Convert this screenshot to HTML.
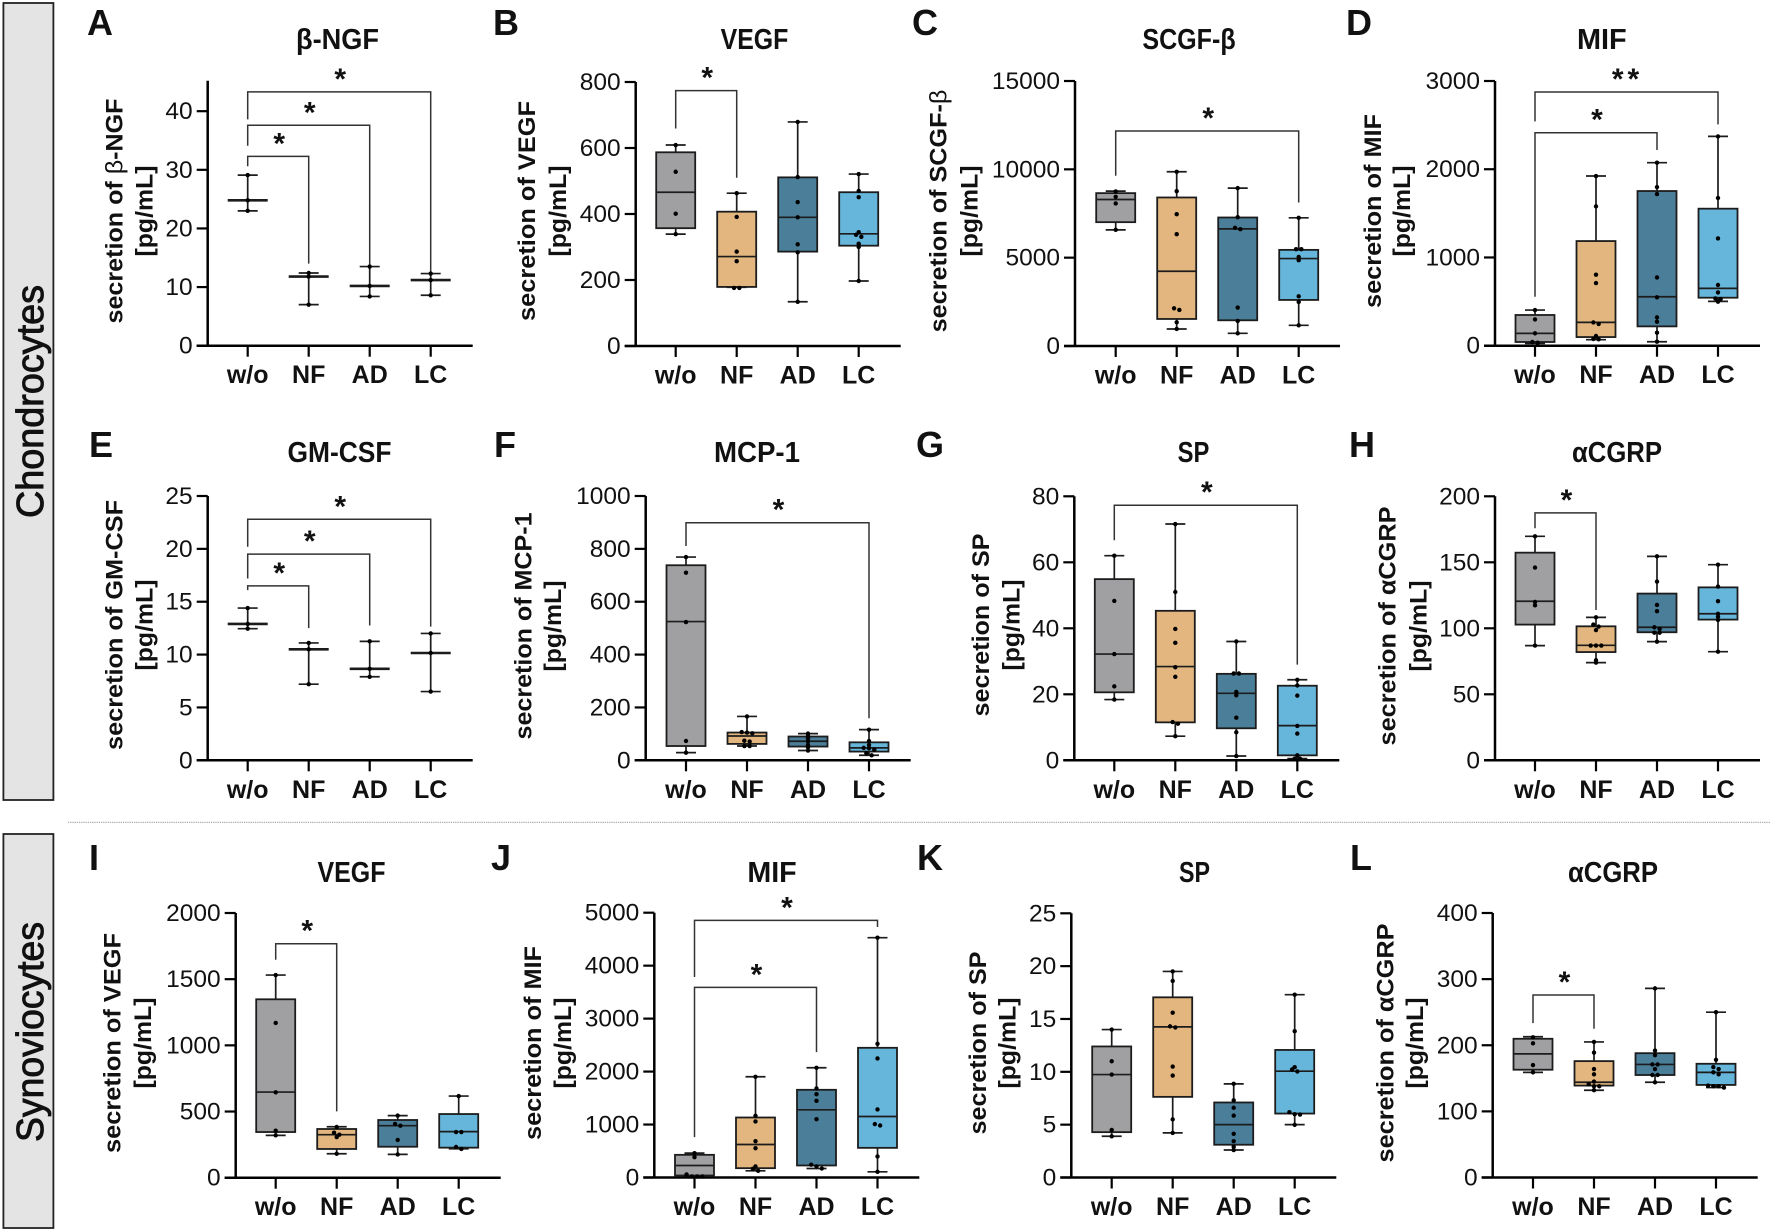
<!DOCTYPE html>
<html lang="en">
<head>
<meta charset="utf-8">
<title>Secretion of factors in chondrocytes and synoviocytes</title>
<style>
html,body{margin:0;padding:0;background:#fff;width:1772px;height:1232px;overflow:hidden}
svg{display:block;position:absolute;left:0;top:0}
text{font-family:"Liberation Sans",Arial,sans-serif;fill:#111}
</style>
</head>
<body>
<svg id="figure" width="1772" height="1232" viewBox="0 0 1772 1232" xmlns="http://www.w3.org/2000/svg">
  <rect x="0" y="0" width="1772" height="1232" fill="#fff"/>
  <rect x="3.4" y="3" width="50" height="797" fill="#e4e4e4" stroke="#222" stroke-width="1.8"/>
  <text transform="translate(43,401.5) rotate(-90)" text-anchor="middle" font-size="38" textLength="233" lengthAdjust="spacingAndGlyphs" stroke="#111" stroke-width="0.9">Chondrocytes</text>
  <rect x="3.4" y="834" width="50" height="394" fill="#e4e4e4" stroke="#222" stroke-width="1.8"/>
  <text transform="translate(43,1032) rotate(-90)" text-anchor="middle" font-size="38" textLength="220" lengthAdjust="spacingAndGlyphs" stroke="#111" stroke-width="0.9">Synoviocytes</text>
  <line x1="68" y1="822.4" x2="1770" y2="822.4" stroke="#a8a8a8" stroke-width="1.2" stroke-dasharray="1.2 1"/>
</svg>
<script>
const categories = ['w/o', 'NF', 'AD', 'LC'];
const groupColors = ['#a0a0a2', '#e2b67e', '#4a7e99', '#66b5da'];

/* A: beta-NGF */
const aTicks = [0, 10, 20, 30, 40];
const aMax = [29.1, 12.4, 13.5, 12.3];
const aMedian = [24.8, 11.8, 10.2, 11.2];
const aMin = [23.0, 7.0, 8.4, 8.6];
const aDots = [[29.1, 24.8, 23.0], [12.4, 11.8, 7.0], [13.5, 10.2, 8.4], [12.3, 11.2, 8.6]];
const aBrackets = [[0, 3, 43.3, 38.6, 12.6, '*'], [0, 2, 37.6, 34.1, 13.75, '*'], [0, 1, 32.3, 30.6, 14.0, '*']];

/* B: VEGF */
const bTicks = [0, 200, 400, 600, 800];
const bMax = [609, 463, 679, 521];
const bQ3 = [587, 407, 511, 466];
const bMedian = [466, 271, 390, 340];
const bQ1 = [357, 179, 286, 304];
const bMin = [339, 178, 134, 197];
const bDots = [[609, 528, 401, 339], [463, 391, 286, 257, 176, 176], [679, 512, 436, 390, 308, 284, 134], [521, 470, 451, 345, 337, 331, 310, 300, 197]];
const bBrackets = [[0, 1, 774, 659, 510, '*']];

/* C: SCGF-beta */
const cTicks = [0, 5000, 10000, 15000];
const cMax = [8766, 9862, 8936, 7255];
const cQ3 = [8653, 8407, 7274, 5441];
const cMedian = [8294, 4232, 6631, 4950];
const cQ1 = [7009, 1530, 1455, 2607];
const cMin = [6575, 964, 718, 1171];
const cDots = [[8747, 8445, 8067, 6575], [9862, 8766, 7463, 6329, 2135, 2040, 1341, 964], [8936, 7293, 6688, 6612, 2173, 1417, 718], [7255, 5479, 5479, 5044, 4855, 2815, 2494, 1171]];
const cBrackets = [[0, 3, 12167, 9635, 8124, '*']];

/* D: MIF */
const dTicks = [0, 1000, 2000, 3000];
const dMax = [404, 1923, 2074, 2372];
const dQ3 = [348, 1186, 1753, 1553];
const dMedian = [140, 264, 555, 650];
const dQ1 = [42, 98, 219, 544];
const dMin = [26, 68, 45, 502];
const dDots = [[404, 298, 140, 42, 34], [1923, 1579, 805, 710, 264, 246, 110, 76, 72], [2074, 1798, 1719, 774, 548, 321, 272, 147, 45], [2372, 1674, 1216, 688, 604, 536, 529, 499]];
const dBrackets = [[0, 3, 2875, 2543, 2509, '**'], [0, 2, 2414, 555, 2218, '*']];

/* E: GM-CSF */
const eTicks = [0, 5, 10, 15, 20, 25];
const eMax = [14.4, 11.1, 11.25, 12.0];
const eMedian = [12.9, 10.5, 8.65, 10.15];
const eMin = [12.45, 7.2, 7.9, 6.5];
const eDots = [[14.4, 12.9, 12.45], [11.1, 10.5, 7.2], [11.25, 8.65, 7.9], [12.0, 10.15, 6.5]];
const eBrackets = [[0, 3, 22.8, 20.2, 12.65, '*'], [0, 2, 19.5, 17.2, 12.75, '*'], [0, 1, 16.5, 16.1, 12.5, '*']];

/* F: MCP-1 */
const fTicks = [0, 200, 400, 600, 800, 1000];
const fMax = [769, 166, 101, 116];
const fQ3 = [738, 105, 90, 68];
const fMedian = [525, 92, 72, 47];
const fQ1 = [54, 62, 52, 33];
const fMin = [29, 54, 37, 19];
const fDots = [[769, 710, 523, 73, 29], [166, 107, 105, 102, 74, 71, 54, 54], [101, 92, 83, 72, 58, 49, 37], [116, 73, 58, 47, 46, 40, 27, 19]];
const fBrackets = [[0, 3, 899, 811, 159, '*']];

/* G: SP */
const gTicks = [0, 20, 40, 60, 80];
const gMax = [62, 71.6, 36, 24.4];
const gQ3 = [54.9, 45.3, 26.2, 22.6];
const gMedian = [32.2, 28.4, 20.3, 10.5];
const gQ1 = [20.6, 11.5, 9.7, 1.5];
const gMin = [18.4, 7.3, 1.3, 0.5];
const gDots = [[62, 48.3, 32.2, 22.4, 18.4], [71.6, 51, 39.8, 35.6, 28.2, 25.3, 11.6, 11.1, 7.3], [36, 26.3, 26.3, 20.7, 19.7, 12.9, 8.5, 1.3], [24.4, 22.7, 19.6, 10.4, 8.1, 1.5, 0.5, 0.5]];
const gBrackets = [[0, 3, 77.3, 66.7, 29, '*']];

/* H: alpha-CGRP */
const hTicks = [0, 50, 100, 150, 200];
const hMax = [169.7, 108.3, 154.5, 148.2];
const hQ3 = [157.3, 101.5, 126.3, 131];
const hMedian = [120.5, 87.1, 100.8, 111];
const hQ1 = [102.8, 82, 97, 106.6];
const hMin = [86.9, 74, 89.9, 82.3];
const hDots = [[169.7, 146, 120, 117.4, 86.9], [108.3, 102.8, 101.3, 98.7, 86.9, 86.9, 86.9, 75.8, 74], [154.5, 135.4, 117.7, 113, 100.8, 99.6, 96.7, 96.7, 89.9], [148.2, 131.6, 120.5, 111, 108.8, 106.3, 82.3]];
const hBrackets = [[0, 1, 187.4, 175.8, 113.9, '*']];

/* I: VEGF synoviocytes */
const iTicks = [0, 500, 1000, 1500, 2000];
const iMax = [1531, 385, 469, 617];
const iQ3 = [1348, 368, 436, 481];
const iMedian = [647, 325, 393, 348];
const iQ1 = [345, 217, 234, 227];
const iMin = [320, 181, 176, 219];
const iDots = [[1531, 1169, 645, 355, 320], [383, 340, 325, 307, 181], [469, 406, 393, 285, 176], [617, 345, 345, 232, 217]];
const iBrackets = [[0, 1, 1768, 1647, 501, '*']];

/* J: MIF synoviocytes */
const jTicks = [0, 1000, 2000, 3000, 4000, 5000];
const jMax = [460, 1902, 2072, 4528];
const jQ3 = [428, 1133, 1656, 2449];
const jMedian = [227, 623, 1278, 1152];
const jQ1 = [38, 176, 227, 560];
const jMin = [13, 126, 170, 107];
const jDots = [[460, 384, 57, 19, 19, 19], [1902, 1165, 1058, 686, 554, 208, 164, 126], [2072, 1681, 1574, 1448, 1102, 241, 208, 170], [4528, 2525, 2248, 1285, 1008, 982, 397, 107]];
const jBrackets = [[0, 3, 4855, 3785, 4729, '*'], [0, 2, 3589, 762, 2368, '*']];

/* K: SP synoviocytes */
const kTicks = [0, 5, 10, 15, 20, 25];
const kMax = [14.0, 19.5, 8.86, 17.3];
const kQ3 = [12.4, 17.05, 7.1, 12.07];
const kMedian = [9.74, 14.25, 5.0, 10.06];
const kQ1 = [4.29, 7.63, 3.1, 6.05];
const kMin = [3.9, 4.22, 2.6, 5.0];
const kDots = [[14.0, 11.0, 9.74, 4.5, 3.9], [19.5, 18.6, 15.6, 14.3, 14.2, 10.5, 9.65, 5.5, 4.22], [8.86, 7.3, 6.6, 5.86, 4.13, 3.44, 2.9, 2.6], [17.3, 13.84, 10.44, 10.22, 10.03, 6.18, 5.99, 5.96, 4.98]];
const kBrackets = [];

/* L: alpha-CGRP synoviocytes */
const lTicks = [0, 100, 200, 300, 400];
const lMax = [212.9, 205, 286, 250];
const lQ3 = [209.8, 176, 188, 172];
const lMedian = [187, 144, 171, 159];
const lQ1 = [163, 139, 155, 140];
const lMin = [159, 132, 144, 136];
const lDots = [[212, 203, 170, 159], [205, 189, 164, 156, 145, 141, 138, 138, 132], [286, 192, 185, 171, 171, 164, 155, 155, 144], [250, 178, 167, 164, 159, 156, 139, 138, 138, 136]];
const lBrackets = [[0, 1, 276, 233.5, 225, '*']];

const NS = 'http://www.w3.org/2000/svg';
const figure = document.getElementById('figure');

function make(tag, parent, attrs) {
  const node = document.createElementNS(NS, tag);
  for (const k in attrs) node.setAttribute(k, attrs[k]);
  parent.appendChild(node);
  return node;
}

const panels = [
  {id:'a', letter:'A', lx:87, ly:35, title:'β-NGF', tx:337.5, tw:83, tb:49, factor:'β-NGF', axisX:207.7, y0:345.7, top:80.7, domainMax:45.2, catStart:247.7, l1x:122.7, l1len:225, l2x:152.7, cy:211, ticks:aTicks, max:aMax, q3:null, med:aMedian, q1:null, min:aMin, dots:aDots, brackets:aBrackets},
  {id:'b', letter:'B', lx:493, ly:35, title:'VEGF', tx:754.5, tw:67.7, tb:49, factor:'VEGF', axisX:635.7, y0:346, top:82, domainMax:800, catStart:675.7, l1x:535, l1len:220, l2x:566, cy:211, ticks:bTicks, max:bMax, q3:bQ3, med:bMedian, q1:bQ1, min:bMin, dots:bDots, brackets:bBrackets},
  {id:'c', letter:'C', lx:912, ly:35, title:'SCGF-β', tx:1189, tw:93.3, tb:49, factor:'SCGF-β', axisX:1075, y0:346, top:81, domainMax:15000, catStart:1115.7, l1x:946.7, l1len:242.7, l2x:977.7, cy:211, ticks:cTicks, max:cMax, q3:cQ3, med:cMedian, q1:cQ1, min:cMin, dots:cDots, brackets:cBrackets},
  {id:'d', letter:'D', lx:1346, ly:35, title:'MIF', tx:1601.8, tw:49.7, tb:49, factor:'MIF', axisX:1495, y0:345.7, top:81, domainMax:3000, catStart:1535, l1x:1381, l1len:194, l2x:1410, cy:211, ticks:dTicks, max:dMax, q3:dQ3, med:dMedian, q1:dQ1, min:dMin, dots:dDots, brackets:dBrackets},
  {id:'e', letter:'E', lx:89, ly:457, title:'GM-CSF', tx:339.5, tw:104, tb:462, factor:'GM-CSF', axisX:207.7, y0:760.3, top:496, domainMax:25, catStart:247.7, l1x:122.7, l1len:250, l2x:152.7, cy:625, ticks:eTicks, max:eMax, q3:null, med:eMedian, q1:null, min:eMin, dots:eDots, brackets:eBrackets},
  {id:'f', letter:'F', lx:494, ly:457, title:'MCP-1', tx:757, tw:86, tb:462, factor:'MCP-1', axisX:645.7, y0:760.3, top:496, domainMax:1000, catStart:686, l1x:531.7, l1len:227, l2x:561, cy:626, ticks:fTicks, max:fMax, q3:fQ3, med:fMedian, q1:fQ1, min:fMin, dots:fDots, brackets:fBrackets},
  {id:'g', letter:'G', lx:916, ly:457, title:'SP', tx:1193.5, tw:31.7, tb:462, factor:'SP', axisX:1074.3, y0:760.3, top:496.3, domainMax:80, catStart:1114.3, l1x:989, l1len:183, l2x:1019.3, cy:625, ticks:gTicks, max:gMax, q3:gQ3, med:gMedian, q1:gQ1, min:gMin, dots:gDots, brackets:gBrackets},
  {id:'h', letter:'H', lx:1349, ly:457, title:'αCGRP', tx:1617, tw:90, tb:462, factor:'αCGRP', axisX:1495, y0:760.3, top:496.3, domainMax:200, catStart:1535, l1x:1395.3, l1len:239, l2x:1426.3, cy:626, ticks:hTicks, max:hMax, q3:hQ3, med:hMedian, q1:hQ1, min:hMin, dots:hDots, brackets:hBrackets},
  {id:'i', letter:'I', lx:89, ly:870, title:'VEGF', tx:351.5, tw:68, tb:882, factor:'VEGF', axisX:235.7, y0:1177.7, top:913, domainMax:2000, catStart:275.7, l1x:120.7, l1len:220, l2x:151, cy:1043, ticks:iTicks, max:iMax, q3:iQ3, med:iMedian, q1:iQ1, min:iMin, dots:iDots, brackets:iBrackets},
  {id:'j', letter:'J', lx:491, ly:870, title:'MIF', tx:772, tw:49.3, tb:882, factor:'MIF', axisX:654.3, y0:1177.5, top:912.7, domainMax:5000, catStart:694.5, l1x:541, l1len:194, l2x:571, cy:1043, ticks:jTicks, max:jMax, q3:jQ3, med:jMedian, q1:jQ1, min:jMin, dots:jDots, brackets:jBrackets},
  {id:'k', letter:'K', lx:917, ly:870, title:'SP', tx:1194.5, tw:31, tb:882, factor:'SP', axisX:1071.3, y0:1177.5, top:913.3, domainMax:25, catStart:1111.7, l1x:986, l1len:183, l2x:1015.3, cy:1043, ticks:kTicks, max:kMax, q3:kQ3, med:kMedian, q1:kQ1, min:kMin, dots:kDots, brackets:kBrackets},
  {id:'l', letter:'L', lx:1350, ly:870, title:'αCGRP', tx:1613, tw:90, tb:882, factor:'αCGRP', axisX:1492.7, y0:1177.5, top:913, domainMax:400, catStart:1533, l1x:1393.7, l1len:239, l2x:1423, cy:1043, ticks:lTicks, max:lMax, q3:lQ3, med:lMedian, q1:lQ1, min:lMin, dots:lDots, brackets:lBrackets}
];

const CAT_STEP = 61;
const BOX_W = 39;
const CAP_W = 20;
const MEAN_W = 40;
const INK = '#1c1c1c';

function drawPanel(p) {
  const yScale = v => p.y0 - (v / p.domainMax) * (p.y0 - p.top);
  const xScale = i => p.catStart + i * CAT_STEP;

  const g = make('g', figure, {});
  
  

  const letter = make('text', g, {x: p.lx, y: p.ly, 'font-size': 36, 'font-weight': 'bold'});
  
  
  letter.textContent = p.letter;

  const title = make('text', g, {x: p.tx, y: p.tb, 'font-size': 29, 'font-weight': 'bold', 'text-anchor': 'middle', textLength: p.tw, lengthAdjust: 'spacingAndGlyphs'});
  
  
  title.textContent = p.title;

  /* y-axis title, two rotated lines; the beta sign is drawn in regular weight */
  const yTitle1 = make('text', g, {transform: 'translate(' + p.l1x + ',' + p.cy + ') rotate(-90)', 'font-size': 24.5, 'font-weight': 'bold', 'text-anchor': 'middle', textLength: p.l1len, lengthAdjust: 'spacingAndGlyphs'});
  
  
  const factorParts = p.factor.split('β');
  yTitle1.appendChild(document.createTextNode('secretion of ' + factorParts[0]));
  if (factorParts.length > 1) {
    const beta = make('tspan', yTitle1, {'font-weight': 'normal'});
    beta.textContent = 'β';
    yTitle1.appendChild(document.createTextNode(factorParts[1]));
  }
  const yTitle2 = make('text', g, {transform: 'translate(' + p.l2x + ',' + p.cy + ') rotate(-90)', 'font-size': 24.5, 'font-weight': 'bold', 'text-anchor': 'middle', textLength: 91, lengthAdjust: 'spacingAndGlyphs'});
  
  
  yTitle2.textContent = '[pg/mL]';

  /* significance brackets */
  p.brackets.forEach(b => {
    const x1 = xScale(b[0]);
    const x2 = xScale(b[1]);
    const yTop = yScale(b[2]);
    const path = make('path', g, {d: 'M' + x1 + ' ' + yScale(b[3]) + 'V' + yTop + 'H' + x2 + 'V' + yScale(b[4]), fill: 'none', stroke: '#333', 'stroke-width': 1.5});
    
    
    const star = make('text', g, {x: (x1 + x2) / 2 + 1, y: yTop - 3, 'font-size': 30, 'font-weight': 'bold', 'text-anchor': 'middle', 'letter-spacing': b[5].length > 1 ? 4 : 0});
    
    
    star.textContent = b[5];
  });

  /* groups */
  categories.forEach((cat, i) => {
    const cx = xScale(i);
    const isBox = !!p.q3;
    const whiskerUpper = make('line', g, {x1: cx, x2: cx, y1: yScale(p.max[i]), y2: yScale(isBox ? p.q3[i] : p.min[i]), stroke: INK, 'stroke-width': 1.7});
    
    
    if (isBox) {
      const whiskerLower = make('line', g, {x1: cx, x2: cx, y1: yScale(p.q1[i]), y2: yScale(p.min[i]), stroke: INK, 'stroke-width': 1.7});
      
      
    }
    const capTop = make('line', g, {x1: cx - CAP_W / 2, x2: cx + CAP_W / 2, y1: yScale(p.max[i]), y2: yScale(p.max[i]), stroke: INK, 'stroke-width': 1.7});
    
    
    const capBottom = make('line', g, {x1: cx - CAP_W / 2, x2: cx + CAP_W / 2, y1: yScale(p.min[i]), y2: yScale(p.min[i]), stroke: INK, 'stroke-width': 1.7});
    
    
    if (isBox) {
      const box = make('rect', g, {x: cx - BOX_W / 2, y: yScale(p.q3[i]), width: BOX_W, height: yScale(p.q1[i]) - yScale(p.q3[i]), fill: groupColors[i], stroke: INK, 'stroke-width': 1.8});
      
      
    }
    const medianLine = make('line', g, {x1: cx - (isBox ? BOX_W : MEAN_W) / 2, x2: cx + (isBox ? BOX_W : MEAN_W) / 2, y1: yScale(p.med[i]), y2: yScale(p.med[i]), stroke: INK, 'stroke-width': isBox ? 1.7 : 2.6});
    
    

    /* data points: points on almost the same row sit side by side */
    const sorted = p.dots[i].slice().sort((a, b) => b - a);
    const rows = [];
    sorted.forEach(v => {
      const last = rows[rows.length - 1];
      if (last && yScale(v) - yScale(last[last.length - 1]) < 2.2) last.push(v);
      else rows.push([v]);
    });
    rows.forEach(row => {
      row.forEach((v, k) => {
        const dot = make('circle', g, {cx: cx + (k - (row.length - 1) / 2) * 5.3, cy: yScale(v), r: 2.2, fill: '#000'});
        
        
      });
    });

    const tick = make('line', g, {x1: cx, x2: cx, y1: p.y0, y2: p.y0 + 11, stroke: '#000', 'stroke-width': 2.2});
    
    
    const label = make('text', g, {x: cx, y: p.y0 + 37.5, 'font-size': 25, 'font-weight': 'bold', 'text-anchor': 'middle'});
    
    
    label.textContent = cat;
  });

  /* axes */
  const yAxis = make('line', g, {x1: p.axisX, x2: p.axisX, y1: p.top, y2: p.y0 + 1, stroke: '#000', 'stroke-width': 2.5});
  
  
  const xAxis = make('line', g, {x1: p.axisX - 11, x2: p.axisX + 265, y1: p.y0, y2: p.y0, stroke: '#000', 'stroke-width': 2.5});
  
  
  p.ticks.forEach(t => {
    const y = yScale(t);
    const tick = make('line', g, {x1: p.axisX - 11, x2: p.axisX, y1: y, y2: y, stroke: '#000', 'stroke-width': 2.2});
    
    
    const label = make('text', g, {x: p.axisX - 15, y: y + 8, 'font-size': 24.5, 'text-anchor': 'end'});
    
    
    label.textContent = t;
  });
}

panels.forEach(drawPanel);
</script>
</body>
</html>
